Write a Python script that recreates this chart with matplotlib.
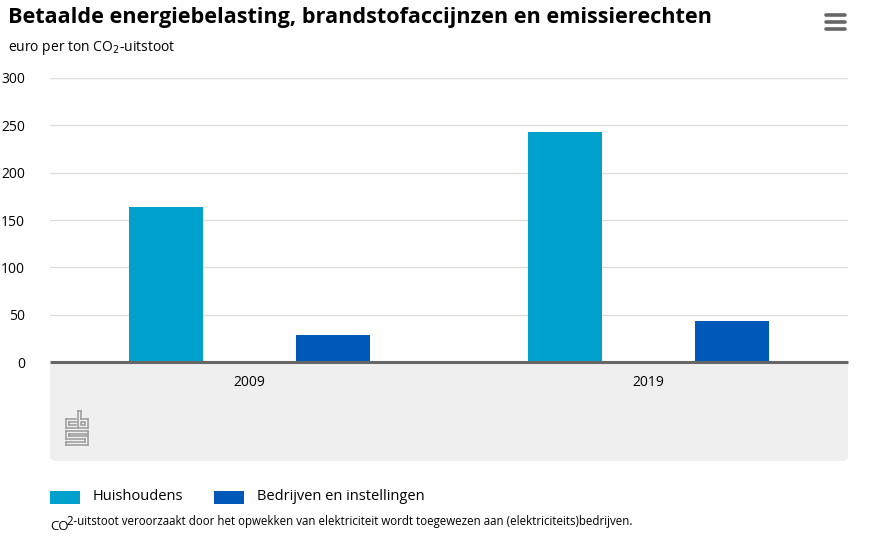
import matplotlib
matplotlib.use("Agg")
import matplotlib.pyplot as plt
from matplotlib.patches import FancyBboxPatch, Rectangle
from matplotlib.lines import Line2D

categories = ["2009", "2019"]
huishoudens = [164, 243]
bedrijven = [29, 43]
series_names = ["Huishoudens", "Bedrijven en instellingen"]
yticks = [0, 50, 100, 150, 200, 250, 300]

W, H = 886, 546
plt.rcParams['font.family'] = ['Open Sans', 'DejaVu Sans']

fig = plt.figure(figsize=(W / 100, H / 100), dpi=100)
fig.patch.set_facecolor('white')

def fx(x):
    return x / W

def fy(y):
    return 1 - y / H

# gray area below axis
gray = FancyBboxPatch((fx(50), fy(461)), fx(848) - fx(50), fy(362) - fy(461),
                      boxstyle="round,pad=0,rounding_size=0.008",
                      transform=fig.transFigure, facecolor='#efefef', edgecolor='none', zorder=-5)
fig.patches.append(gray)

ax = fig.add_axes([fx(50), fy(362), fx(848) - fx(50), fy(78) - fy(362)])
ax.set_zorder(2)
ax.set_facecolor('none')
x = list(range(len(categories)))
w = 0.185
off = 0.209
ax.bar([i - off for i in x], huishoudens, width=w, color='#00a1cd', zorder=3)
ax.bar([i + off for i in x], bedrijven, width=w, color='#0058b8', zorder=3)
ax.set_xlim(-0.5, len(categories) - 0.5)
ax.set_ylim(0, 300)
ax.set_yticks(yticks)
ax.set_yticklabels([str(t) for t in yticks], fontsize=10, color='#000000')
ax.set_xticks(x)
ax.set_xticklabels(categories, fontsize=10, color='#000000')
ax.tick_params(axis='y', length=0, pad=18)
ax.tick_params(axis='x', length=0, pad=9)
ax.grid(axis='y', color='#dddddd', linewidth=1, zorder=0)
for s in ['top', 'right', 'left']:
    ax.spines[s].set_visible(False)
ax.spines['bottom'].set_color('#666666')
ax.spines['bottom'].set_linewidth(2.2)
ax.spines['bottom'].set_capstyle('butt')
ax.spines['bottom'].set_zorder(4)

# title and subtitle
fig.text(fx(8), fy(18), "Betaalde energiebelasting, brandstofaccijnzen en emissierechten",
         fontsize=15.6, fontweight='bold', va='center', ha='left', color='#000000')
fig.text(fx(8), fy(48), "euro per ton CO$_2$-uitstoot", fontsize=10, va='center', ha='left', color='#000000')

# hamburger icon
for yy in [15, 22, 29]:
    fig.lines.append(Line2D([fx(826), fx(845)], [fy(yy), fy(yy)], transform=fig.transFigure,
                            color='#666666', linewidth=2.6, solid_capstyle='round'))

# cbs logo (decorative)
lc = '#999999'
def seg(x0, y0, x1, y1):
    fig.lines.append(Line2D([fx(x0), fx(x1)], [fy(y0), fy(y1)], transform=fig.transFigure,
                            color=lc, linewidth=1.1))
# c
seg(66, 419, 76, 419); seg(66, 419, 66, 428); seg(66, 428, 76, 428)
seg(69, 422, 76, 422); seg(69, 422, 69, 425); seg(69, 425, 76, 425)
# b
seg(78, 411, 78, 428); seg(78, 428, 88, 428); seg(88, 428, 88, 419); seg(88, 419, 81, 419)
seg(81, 419, 81, 411); seg(81, 411, 78, 411)
fig.patches.append(Rectangle((fx(81), fy(425)), fx(85) - fx(81), fy(422) - fy(425),
                             transform=fig.transFigure, fill=False, edgecolor=lc, linewidth=1.1))
# s
seg(66, 431, 88, 431); seg(66, 431, 66, 439); seg(66, 439, 85, 439); seg(85, 439, 85, 442)
seg(85, 442, 66, 442); seg(66, 442, 66, 445); seg(66, 445, 88, 445); seg(88, 445, 88, 436)
seg(88, 436, 69, 436); seg(69, 436, 69, 434); seg(69, 434, 88, 434); seg(88, 434, 88, 431)

# legend
colors = ['#00a1cd', '#0058b8']
lx = [50, 214]
for name, c, x0 in zip(series_names, colors, lx):
    fig.patches.append(Rectangle((fx(x0), fy(504)), fx(x0 + 30) - fx(x0), fy(491) - fy(504),
                                 transform=fig.transFigure, facecolor=c, edgecolor='none'))
    fig.text(fx(x0 + 43), fy(497), name, fontsize=10.5, va='center', ha='left', color='#000000')

# footnote
fig.text(fx(50), fy(527), "CO", fontsize=9.5, va='center', ha='left', color='#000000')
fig.text(fx(67), fy(522), "2-uitstoot veroorzaakt door het opwekken van elektriciteit wordt toegewezen aan (elektriciteits)bedrijven.",
         fontsize=8.3, va='center', ha='left', color='#000000')

fig.savefig("out.png", dpi=100, facecolor='white')
